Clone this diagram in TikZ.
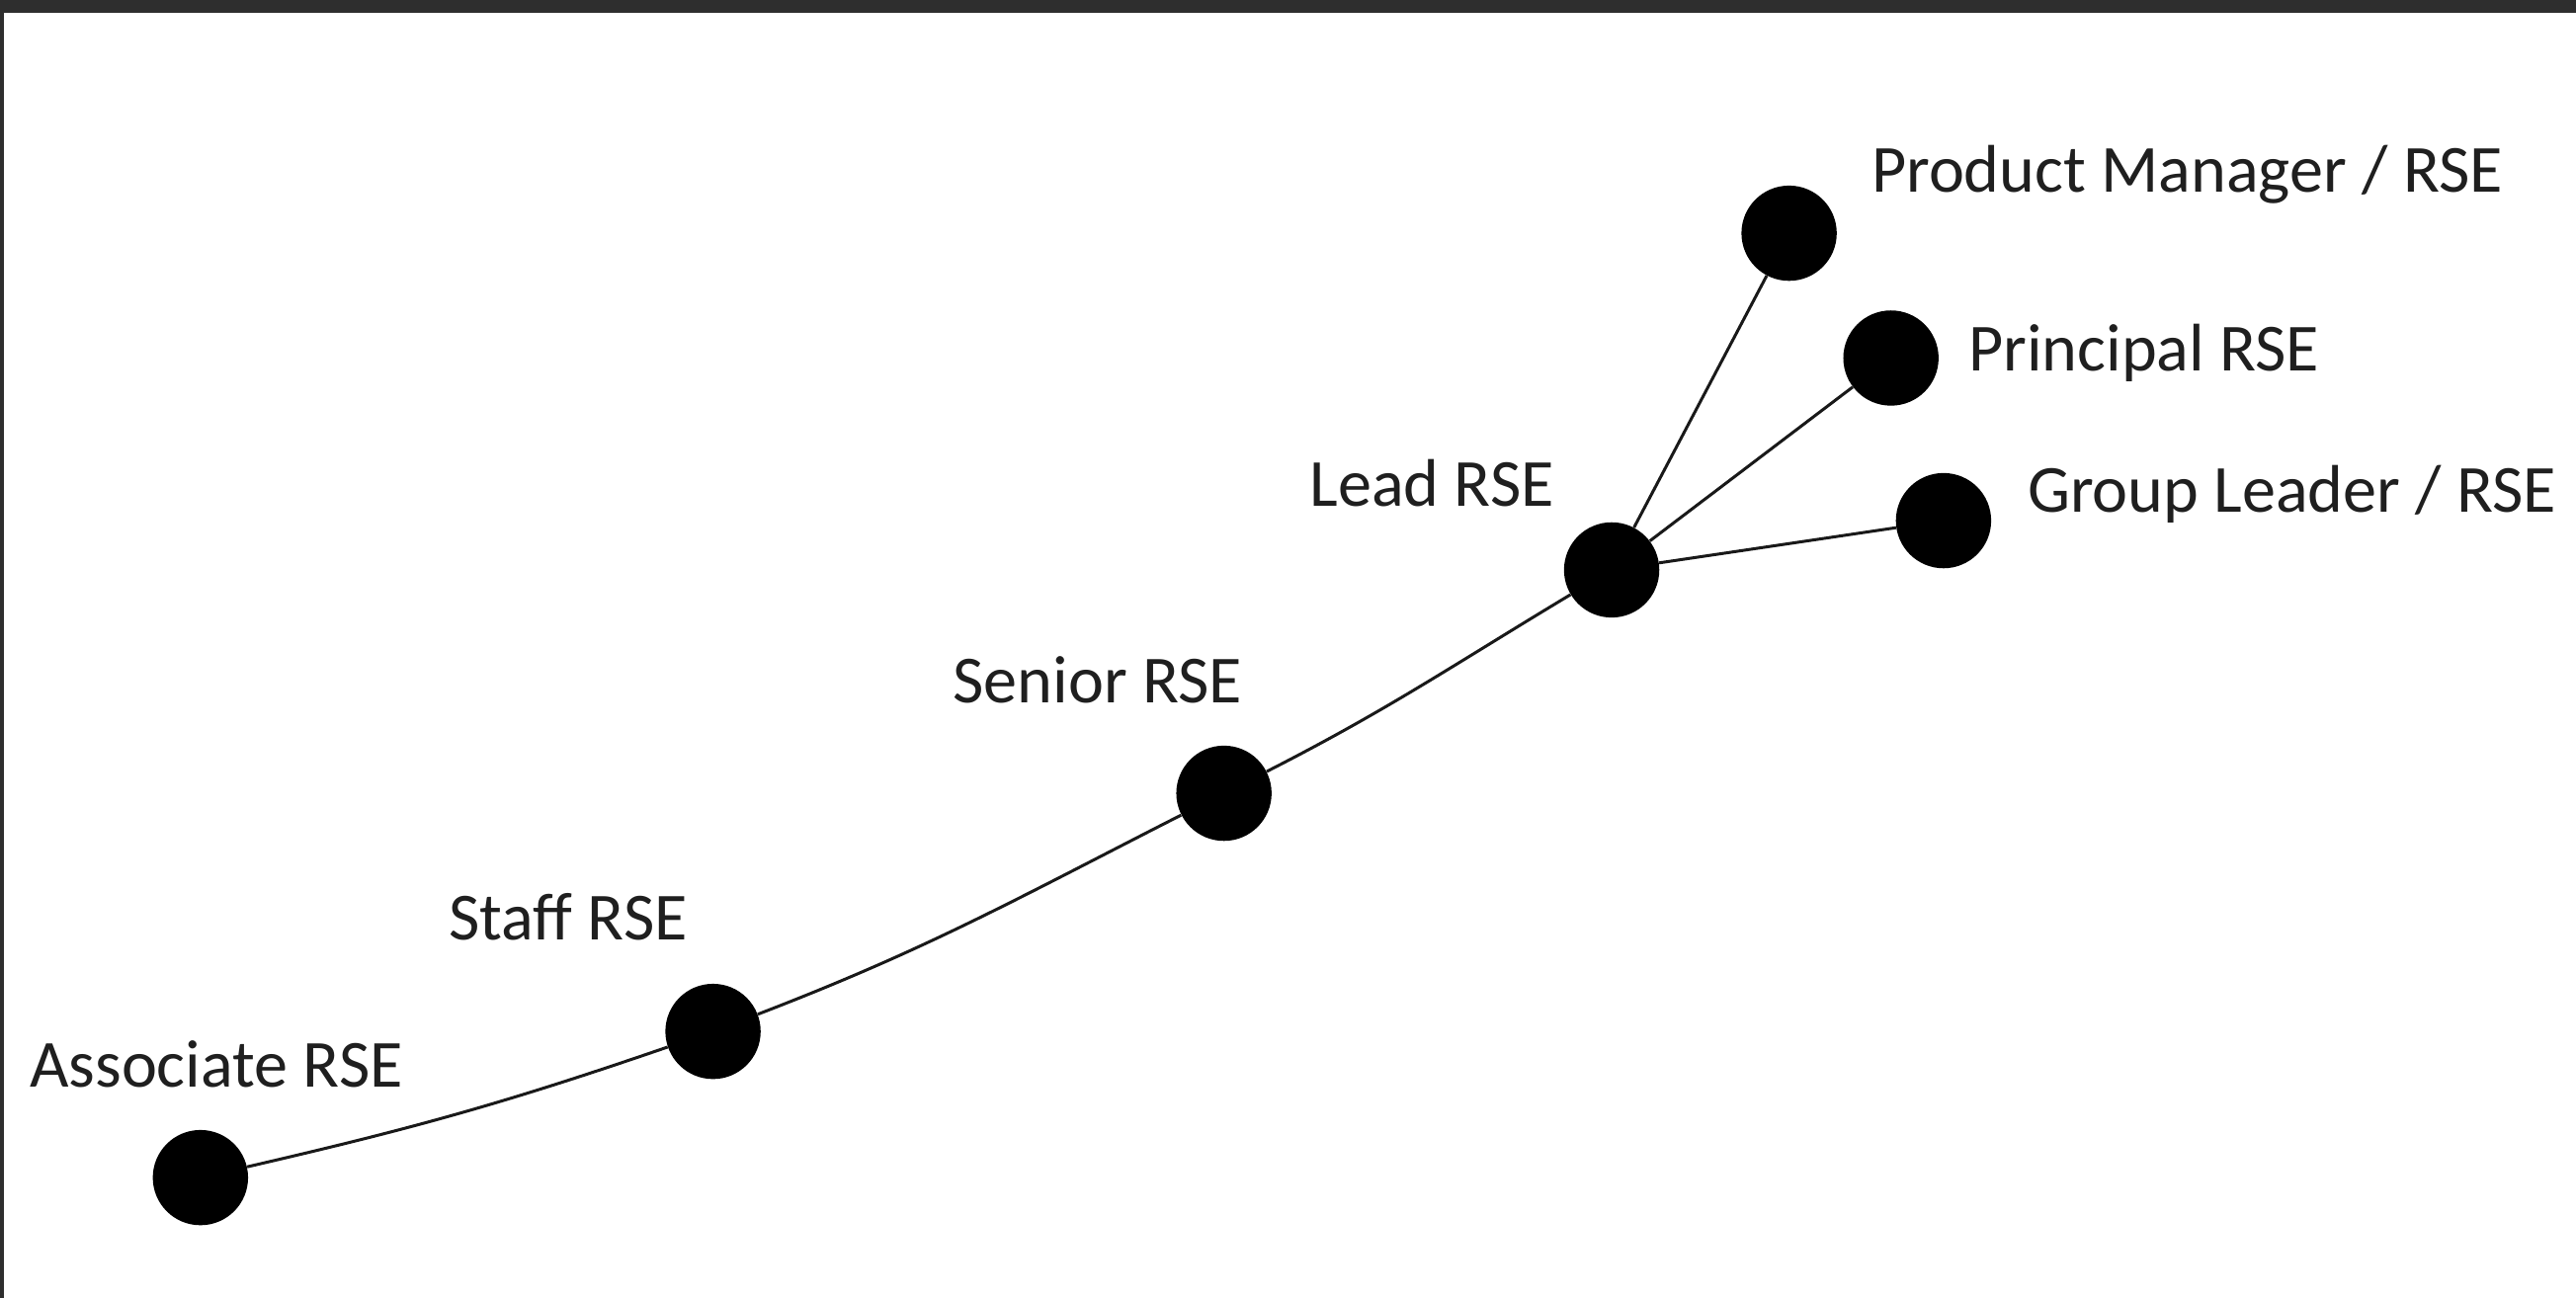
\documentclass[tikz,border=0pt]{standalone}
\usepackage{fontspec}
\setmainfont{Carlito}
\begin{document}
\begin{tikzpicture}[x=1pt,y=1pt,
  dot/.style={circle,fill=black,draw=none,minimum size=58pt,inner sep=0pt},
  lbl/.style={anchor=base west,inner sep=0pt,text=black!88,font=\fontsize{41}{49}\selectfont},
  link/.style={line width=1.8pt,black!90}]
\useasboundingbox (0,0) rectangle (1568,-790.3);
\fill[white] (0,0) rectangle (1568,-790.3);
\fill[black!82] (0,0) rectangle (1568,-7.8);
\fill[black!82] (0,0) rectangle (2.2,-790.3);
% dots
\node[dot] (assoc) at (122,-717) {};
\node[dot] (staff) at (434,-628) {};
\node[dot] (senior) at (745,-483) {};
\node[dot] (lead) at (981,-347) {};
\node[dot] (pm) at (1089,-142) {};
\node[dot] (princ) at (1151,-218) {};
\node[dot] (group) at (1183,-317) {};
% connectors
\draw[link] (assoc) to[out=13,in=199] (staff);
\draw[link] (staff) to[out=21,in=207] (senior);
\draw[link] (senior) to[out=27,in=211] (lead);
\draw[link] (lead) -- (pm);
\draw[link] (lead) -- (princ);
\draw[link] (lead) -- (group);
% labels
\node[lbl] (lassoc) at (18,-662) {Associate RSE};
\node[lbl] (lstaff) at (273,-572) {Staff RSE};
\node[lbl] (lsenior) at (580,-428) {Senior RSE};
\node[lbl] (llead) at (797,-308) {Lead RSE};
\node[lbl] (lpm) at (1139,-117) {Product Manager / RSE};
\node[lbl] (lprinc) at (1198,-226) {Principal RSE};
\node[lbl] (lgroup) at (1234,-312) {Group Leader / RSE};
\end{tikzpicture}
\end{document}
